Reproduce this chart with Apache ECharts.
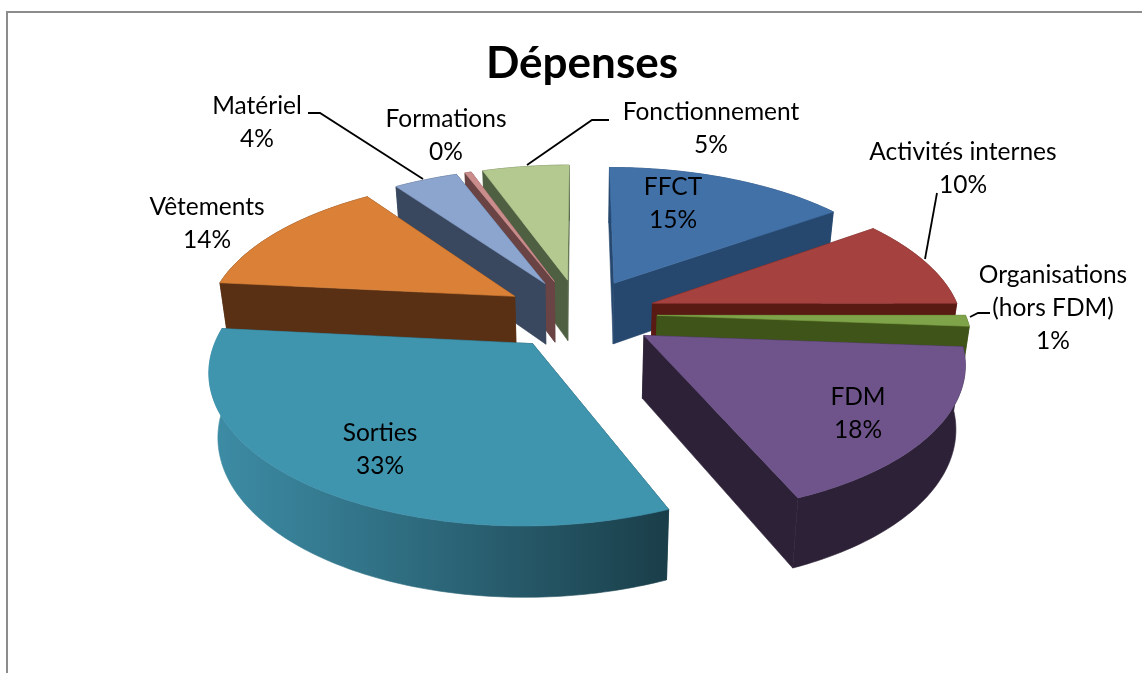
<!DOCTYPE html>
<html>
<head>
<meta charset="utf-8">
<style>html,body{margin:0;padding:0;background:#fff}#c{width:1142px;height:673px}</style>
<script src="https://cdn.jsdelivr.net/npm/echarts@6/dist/echarts.min.js"></script>
</head>
<body>
<div id="c"></div>
<script>
const categories = ['FFCT','Activités internes','Organisations\n(hors FDM)','FDM','Sorties','Vêtements','Matériel','Formations','Fonctionnement'];
const values = [15.1,9.9,1.2,17.5,32.9,13.6,4.0,0.4,5.4];
const topColors = ['#4271a8','#a5423f','#7fa348','#6e548b','#3f94ae','#da8137','#8ba5cf','#cb8d8c','#b4c98f'];
const sideColors = ['#26486e','#5a1a14','#3f5418','#2d2138',null,'#5a3014','#39485f','#6a4445','#4f5f42'];
const paintOrder = [0,8,7,6,5,1,2,3,4];
const labelCentres = [[673,204],[963,169],[1053,308],[858,414],[380,450],[207,224],[257,123],[446,136],[711,129]];
const leaders = [
  [[308,113],[320,113],[423,179]],
  [[609,120],[592,120],[527,165]],
  [[937,193],[925,259]],
  [[990,313],[978,313],[970,317]]
];

const CX=580, CY=314, A=308, B=143, K=0.158, EXPLODE=0.25, HEIGHT=62, SHRINK=1.025;
const total = values.reduce((a,b)=>a+b,0);
const starts = []; values.reduce((s,v,i)=>(starts[i]=s, s+v),0);
const ang = p => p/total*2*Math.PI;
function project(i,t,r,low){
  const m = ang(starts[i]+values[i]/2);
  const u = EXPLODE*Math.sin(m)+r*Math.sin(t), v = EXPLODE*Math.cos(m)+r*Math.cos(t);
  const w = 1+K*v;
  let x = A*u/w, y = -B*v/w;
  if(low){ y = (y+HEIGHT/w*SHRINK)/SHRINK; x = x/SHRINK; }
  return [CX+x, CY+y];
}
function renderItem(params, api){
  const i = api.value(1);
  const t0 = ang(starts[i]), t1 = ang(starts[i]+values[i]);
  const n = Math.max(4, Math.ceil((t1-t0)*60));
  const top=[], bot=[];
  for(let k=0;k<=n;k++){ const t=t0+(t1-t0)*k/n; top.push(project(i,t,1,false)); bot.push(project(i,t,1,true)); }
  const tipT=project(i,t0,0,false), tipB=project(i,t0,0,true);
  const side = sideColors[i] || {type:'linear',x:0,y:0,x2:1,y2:0,colorStops:[{offset:0,color:'#3d8da6'},{offset:.45,color:'#2e6b7e'},{offset:1,color:'#1a3e49'}]};
  const poly = (pts,fill)=>({type:'polygon',shape:{points:pts},style:{fill,stroke:fill,lineWidth:0.6}});
  return {type:'group',children:[
    poly([tipT,top[0],bot[0],tipB], sideColors[i]||'#1a4550'),
    poly([tipT,top[n],bot[n],tipB], sideColors[i]||'#1a4550'),
    poly(top.concat(bot.slice().reverse()), side),
    poly([tipT].concat(top), topColors[i])
  ]};
}
const sliceData = paintOrder.map(i=>({name:categories[i],value:[values[i],i]}));
const font = 'Lato, sans-serif';
const labelEls = categories.map((c,i)=>({
  type:'text', x:labelCentres[i][0], y:labelCentres[i][1], z:10,
  style:{text:c+'\n'+Math.round(values[i])+'%', fill:'#000', font:'24.5px '+font, lineHeight:33, align:'center', verticalAlign:'middle'}
}));
const leaderEls = leaders.map(pts=>({type:'polyline',z:9,shape:{points:pts},style:{stroke:'#000',lineWidth:1.8,fill:null}}));
const frameEls = [
  {type:'polyline',shape:{points:[[7,673],[7,12],[1142,12]]},style:{stroke:'#8c8c8c',lineWidth:2,fill:null}}
];
const chart = echarts.init(document.getElementById('c'),null,{renderer:'canvas'});
chart.setOption({
  animation:false,
  backgroundColor:'#fff',
  title:{text:'Dépenses',left:577,top:37,textAlign:'center',textStyle:{fontFamily:font,fontSize:44,fontWeight:'bold',color:'#000'}},
  graphic:{elements:frameEls.concat(leaderEls,labelEls)},
  series:[{type:'custom',coordinateSystem:'none',renderItem,data:sliceData,silent:true,z:2}]
});
</script>
</body>
</html>
